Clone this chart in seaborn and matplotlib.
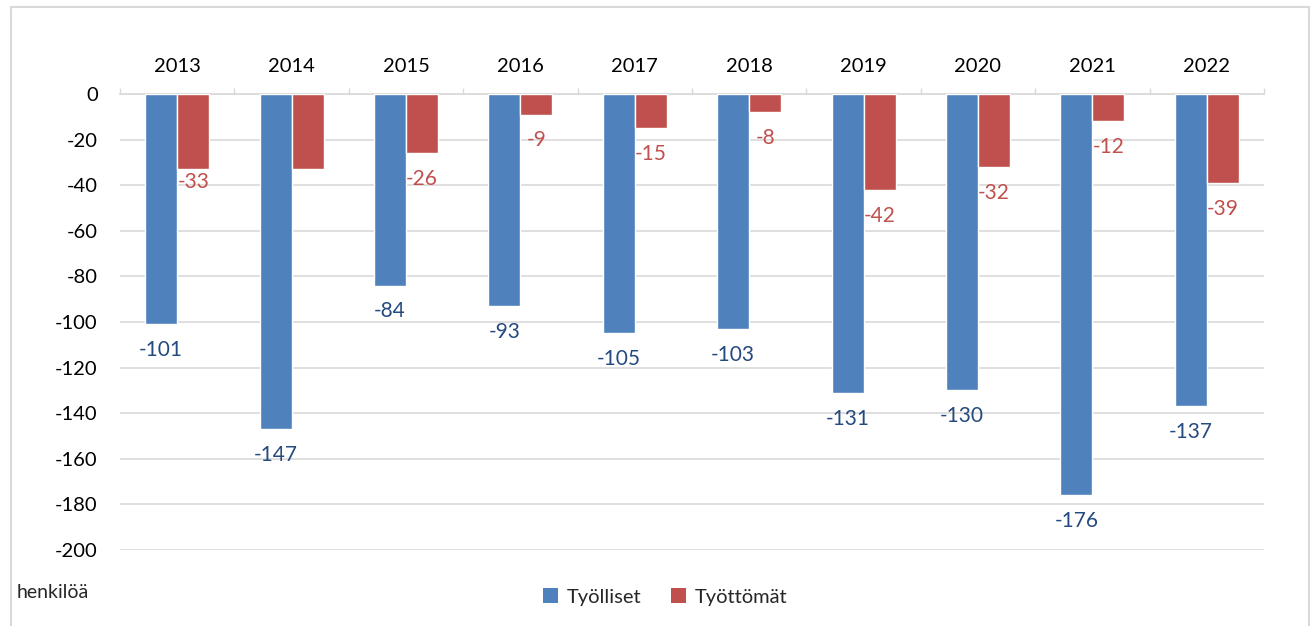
import pandas as pd
import matplotlib.pyplot as plt
import seaborn as sns
from matplotlib.patches import Patch, Rectangle

# Data
years = ["2013", "2014", "2015", "2016", "2017", "2018", "2019", "2020", "2021", "2022"]
tyolliset = [-101, -147, -84, -93, -105, -103, -131, -130, -176, -137]
tyottomat = [-33, -33, -26, -9, -15, -8, -42, -32, -12, -39]
series_names = ["Työlliset", "Työttömät"]
y_ticks = list(range(0, -201, -20))
# the source chart shows no label on this bar
unlabelled = [("Työttömät", "2014")]

# Long format for seaborn
df = pd.DataFrame({
    "year": years * 2,
    "value": tyolliset + tyottomat,
    "series": [series_names[0]] * len(years) + [series_names[1]] * len(years),
})

bar_colors = {"Työlliset": "#4F81BD", "Työttömät": "#C0504D"}
label_colors = {"Työlliset": "#254A7F", "Työttömät": "#C0504D"}
grid_color = "#D9D9D9"

sns.set_style("white")
plt.rcParams["font.family"] = ["Lato", "DejaVu Sans"]

fig = plt.figure(figsize=(13.16, 6.26), dpi=100)
ax = fig.add_axes([120 / 1316, 1 - 550 / 626, (1264 - 120) / 1316, (550 - 94) / 626])

sns.barplot(
    data=df,
    x="year",
    y="value",
    hue="series",
    hue_order=series_names,
    palette=bar_colors,
    width=0.56,
    gap=0,
    saturation=1,
    legend=False,
    ax=ax,
    zorder=3,
)

# Value labels below bar ends
label_pad = 18.7
nudges = {("Työttömät", "2013"): 9.5}  # Excel placed this one closer
for container, name in zip(ax.containers, series_names):
    vals = tyolliset if name == series_names[0] else tyottomat
    for bar, v, yr in zip(container, vals, years):
        if (name, yr) in unlabelled:
            continue
        cx = bar.get_x() + bar.get_width() / 2
        pad = nudges.get((name, yr), label_pad)
        ax.annotate(
            f"{v}",
            xy=(cx, v),
            xytext=(0, -pad),
            textcoords="offset points",
            ha="center",
            va="center",
            fontsize=15,
            color=label_colors[name],
            zorder=4,
        )

# Axes
ax.set_ylim(-200, 0)
ax.set_xlim(-0.5, len(years) - 0.5)
ax.set_yticks(y_ticks)
ax.set_yticklabels([str(t) for t in y_ticks])
ax.set_xlabel("")
ax.set_ylabel("")

ax.xaxis.tick_top()
ax.xaxis.set_label_position("top")
ax.set_xticks(range(len(years)))
ax.set_xticklabels(years)
ax.set_xticks([i - 0.5 for i in range(len(years) + 1)], minor=True)
ax.tick_params(axis="x", which="major", length=0, pad=13.5, labelsize=14.5, colors="black")
ax.tick_params(axis="x", which="minor", length=4.3, width=1, color=grid_color, direction="out")
ax.tick_params(axis="y", length=0, pad=16, labelsize=14.5, colors="black")

for side in ["left", "right", "bottom"]:
    ax.spines[side].set_visible(False)
ax.spines["top"].set_color(grid_color)
ax.spines["top"].set_linewidth(1.2)

ax.set_axisbelow(True)
ax.yaxis.grid(True, color=grid_color, linewidth=1.2)
ax.xaxis.grid(False)

# Legend
handles = [Patch(facecolor=bar_colors[n], edgecolor="none", label=n) for n in series_names]
fig.legend(
    handles=handles,
    loc="center",
    bbox_to_anchor=(665 / 1316, 1 - 597 / 626),
    ncol=2,
    frameon=False,
    fontsize=14.5,
    handlelength=0.75,
    handleheight=0.75,
    handletextpad=0.4,
    columnspacing=1.5,
)

fig.text(17 / 1316, 1 - 592 / 626, "henkilöä", ha="left", va="center", fontsize=14)

# Chart frame
fig.patches.append(
    Rectangle(
        (11 / 1316, -0.02),
        (1309 - 11) / 1316,
        1 - 7 / 626 + 0.02,
        transform=fig.transFigure,
        fill=False,
        edgecolor=grid_color,
        linewidth=1.5,
    )
)

fig.savefig("out.png", dpi=100)
plt.close(fig)
